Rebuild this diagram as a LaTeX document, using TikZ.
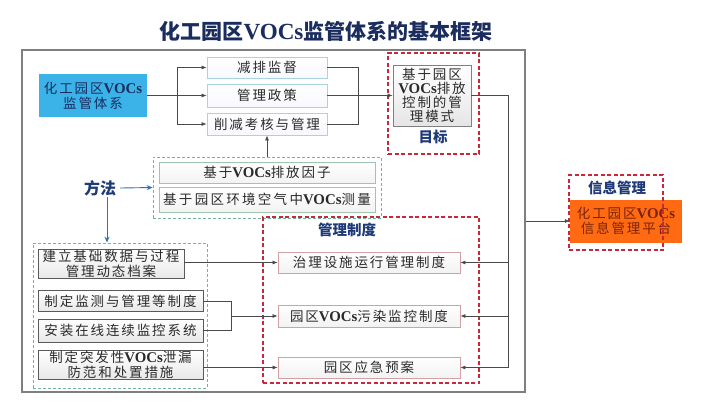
\documentclass[tikz,border=0pt]{standalone}
\usepackage{fontspec}
\usetikzlibrary{arrows.meta,calc}
\newfontfamily\cjk[LetterSpace=14]{Noto Sans CJK SC}
\newfontfamily\cjkt{Noto Sans CJK SC}
\newfontfamily\latb[Scale=1.1]{Liberation Serif}
\newcommand\V{{\latb\bfseries VOCs}}
\definecolor{navy}{HTML}{1B2D5E}
\definecolor{lblnavy}{HTML}{1F3A78}
\definecolor{txt}{HTML}{2A2A2A}
\definecolor{frm}{HTML}{7F7F7F}
\definecolor{bluef}{HTML}{3BB3E8}
\definecolor{tbd}{HTML}{A9D3DE}
\definecolor{gbd}{HTML}{9CC7AE}
\definecolor{gdsh}{HTML}{72B49C}
\definecolor{lbd}{HTML}{5A5A5A}
\definecolor{mbd}{HTML}{D3A0A6}
\definecolor{rdsh}{HTML}{C8283C}
\definecolor{orangef}{HTML}{FF6A13}
\definecolor{orangetxt}{HTML}{7A2408}
\definecolor{line}{HTML}{4A4A4A}
\definecolor{barr}{HTML}{2F74B5}
\tikzset{
  bxbase/.style={draw, rectangle, inner sep=0pt, align=center, text=txt,
    font=\cjk\fontsize{13.5}{15}\selectfont},
  bxT/.style={bxbase, draw=tbd, line width=0.8pt, top color=white, bottom color=black!4!blue!3!white},
  bxG/.style={bxbase, draw=gbd, line width=0.8pt, top color=white, bottom color=green!4!black!5!white},
  bxL/.style={bxbase, draw=lbd, line width=0.7pt, top color=white, bottom color=black!9},
  bxM/.style={bxbase, draw=mbd, line width=0.8pt, top color=white, bottom color=red!5!black!5!white},
  bxGoal/.style={bxbase, draw=black!50, line width=0.7pt, top color=white, bottom color=black!10,
    font=\cjk\fontsize{13.5}{14}\selectfont},
  bxBlue/.style={bxbase, draw=none, fill=bluef, text=navy},
  bxOr/.style={bxbase, draw=none, fill=orangef, text=orangetxt},
  rdash/.style={draw=rdsh, line width=1.1pt, dash pattern=on 4pt off 2.5pt, rectangle, inner sep=0pt},
  gdash/.style={draw=gdsh, line width=0.8pt, dash pattern=on 3pt off 2pt, rectangle, inner sep=0pt},
  lbl/.style={text=lblnavy, inner sep=1pt, font=\cjkt\bfseries\fontsize{14.5}{16}\selectfont},
  conn/.style={draw=line, line width=0.7pt},
  arr/.style={conn, -{Latex[length=5pt,width=4pt]}},
  barrow/.style={draw=barr, line width=0.9pt, -{Stealth[length=6pt,width=5pt]}}
}
\begin{document}
\begin{tikzpicture}[x=1pt,y=-1pt]
\useasboundingbox (0,0) rectangle (720,405);
\fill[white] (0,0) rectangle (720,405);
% title
\node[text=navy, font=\cjkt\bfseries\fontsize{21}{25}\selectfont] (title) at (326,31) {化工园区\V{}监管体系的基本框架};
% main frame
\node[draw=frm, line width=1.3pt, rectangle, minimum width=503pt, minimum height=342pt] (frame) at (273.5,221) {};
% dashed groups
\node[rdash, minimum width=91pt, minimum height=101pt] (goalf) at (433.5,103.5) {};
\node[gdash, minimum width=228pt, minimum height=61pt] (meth) at (267,187.5) {};
\node[gdash, minimum width=174pt, minimum height=145pt] (ll) at (120,315.5) {};
\node[rdash, minimum width=216pt, minimum height=166pt] (mg) at (371,300) {};
% top-left
\node[bxBlue, minimum width=108pt, minimum height=43pt] (blue) at (93,95.5) {化工园区\V\\监管体系};
\node[bxT, minimum width=120pt, minimum height=21pt] (jp) at (267,67.5) {减排监督};
\node[bxT, minimum width=120pt, minimum height=23pt] (zc) at (267,95.5) {管理政策};
\node[bxT, minimum width=120pt, minimum height=22pt] (kh) at (267,124) {削减考核与管理};
% goal
\node[bxGoal, minimum width=78pt, minimum height=61pt] (goal) at (432,95.5) {基于园区\\\V{}排放\\控制的管\\理模式};
\node[lbl] (mubiao) at (433,137) {目标};
% methods
\node[bxG, minimum width=216pt, minimum height=21pt] (f1) at (267,172.5) {基于\V{}排放因子};
\node[bxG, minimum width=216pt, minimum height=25pt, font=\cjk\addfontfeature{LetterSpace=17}\fontsize{13.5}{15}\selectfont] (f2) at (267,199.5) {基于园区环境空气中\V{}测量};
\node[lbl, font=\cjkt\bfseries\fontsize{16}{18}\selectfont] (ff) at (100,188) {方法};
% lower-left
\node[bxL, minimum width=146pt, minimum height=29pt] (l1) at (111,264) {建立基础数据与过程\\管理动态档案};
\node[bxL, minimum width=165pt, minimum height=21pt] (l2) at (120.5,301) {制定监测与管理等制度};
\node[bxL, minimum width=165pt, minimum height=23pt] (l3) at (120.5,330.5) {安装在线连续监控系统};
\node[bxL, minimum width=165pt, minimum height=29pt] (l4) at (120.5,365) {制定突发性\V{}泄漏\\防范和处置措施};
% management
\node[lbl] (glzd) at (347,230) {管理制度};
\node[bxM, minimum width=182pt, minimum height=21pt] (m1) at (369,262.5) {治理设施运行管理制度};
\node[bxM, minimum width=182pt, minimum height=22pt] (m2) at (369,316) {园区\V{}污染监控制度};
\node[bxM, minimum width=182pt, minimum height=21pt] (m3) at (369,367.5) {园区应急预案};
% info
\node[bxOr, minimum width=112pt, minimum height=43pt] (info) at (626,221) {化工园区\V\\信息管理平台};
\node[rdash, minimum width=94pt, minimum height=75pt] (infof) at (616,212.5) {};
\node[lbl] (xxgl) at (617,188) {信息管理};
% connectors top
\coordinate (lx) at (177,0);
\coordinate (rx) at (358,0);
\draw[arr] (blue.east) -- (zc.west);
\draw[conn] (lx |- jp.west) -- (lx |- kh.west);
\draw[arr] (lx |- jp.west) -- (jp.west);
\draw[arr] (lx |- kh.west) -- (kh.west);
\draw[conn] (jp.east) -- (rx |- jp.east) -- (rx |- kh.east) -- (kh.east);
\draw[arr] (zc.east) -- (goal.west);
\draw[arr] (meth.north) -- (kh.south);
% goal to management
\coordinate (gx) at (508,95.5);
\draw[conn] (goal.east) -- (gx) -- (gx |- m3.east);
\draw[arr] (gx |- m1.east) -- (m1.east);
\draw[arr] (gx |- m2.east) -- (m2.east);
\draw[arr] (gx |- m3.east) -- (m3.east);
% methods arrows
\draw[barrow] (ff.east) ++(3,0) -- (meth.west);
\coordinate (fd) at ($(ff.south)+(7,0)$);
\draw[barrow] (fd) -- (fd |- ll.north);
% lower connectors
\coordinate (bx) at (231,0);
\draw[arr] (l1.east |- m1.west) -- (m1.west);
\draw[conn] (l2.east) -- (bx |- l2.east) -- (bx |- l3.east) -- (l3.east);
\draw[arr] (bx |- m2.west) -- (m2.west);
\draw[arr] (l4.east |- m3.west) -- (m3.west);
% to info
\draw[arr] (frame.east) -- (frame.east -| info.west);
\end{tikzpicture}
\end{document}
